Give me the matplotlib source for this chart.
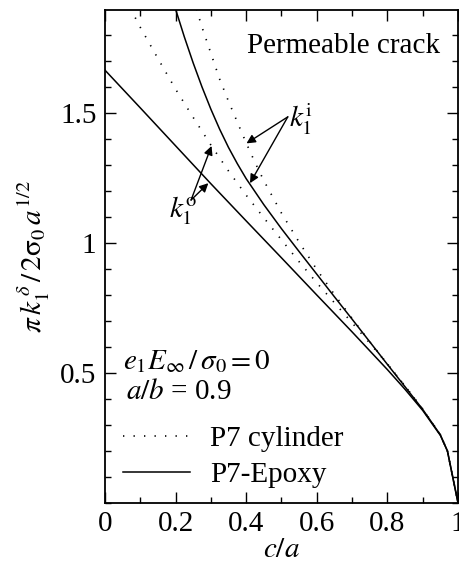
import numpy as np
import matplotlib
matplotlib.use("Agg")
import matplotlib.pyplot as plt
from matplotlib.ticker import MultipleLocator

plt.rcParams["font.family"] = ["Liberation Serif", "DejaVu Serif"]
plt.rcParams["mathtext.fontset"] = "stix"

# P7-Epoxy, outer (k1^o) and inner (k1^i) crack tips
epoxy_o_c = [0.0, 0.1, 0.2, 0.3, 0.4, 0.5, 0.6, 0.7, 0.8, 0.85, 0.9, 0.95, 0.97, 1.0]
epoxy_o_k = [1.665, 1.52, 1.374, 1.228, 1.085, 0.943, 0.80, 0.658, 0.513, 0.437, 0.356, 0.26, 0.20, 0.0]

epoxy_i_c = [0.2, 0.225, 0.25, 0.275, 0.3, 0.325, 0.35, 0.375, 0.4, 0.45, 0.5, 0.55, 0.6,
             0.65, 0.7, 0.75, 0.8, 0.85, 0.9, 0.95, 0.97, 1.0]
epoxy_i_k = [1.90, 1.7925, 1.6925, 1.60, 1.515, 1.4375, 1.3675, 1.305, 1.2475, 1.1475, 1.055,
             0.967, 0.88, 0.793, 0.707, 0.62, 0.533, 0.447, 0.36, 0.262, 0.20, 0.0]

# P7 cylinder
cyl_o_c = [0.05, 0.1, 0.15, 0.2, 0.25, 0.3, 0.35, 0.4, 0.45, 0.5, 0.55, 0.6, 0.65, 0.7,
           0.75, 0.8, 0.85, 0.9, 0.95, 0.97, 1.0]
cyl_o_k = [1.96, 1.83, 1.71, 1.592, 1.483, 1.377, 1.277, 1.184, 1.097, 1.012, 0.928, 0.847,
           0.77, 0.693, 0.615, 0.535, 0.45, 0.36, 0.262, 0.20, 0.0]

cyl_i_c = [0.25, 0.275, 0.3, 0.325, 0.35, 0.375, 0.4, 0.425, 0.45, 0.5, 0.55, 0.6, 0.65,
           0.7, 0.75, 0.8, 0.85, 0.9, 0.95, 0.97, 1.0]
cyl_i_k = [1.94, 1.83, 1.73, 1.63, 1.545, 1.465, 1.385, 1.31, 1.24, 1.115, 1.003, 0.898,
           0.802, 0.71, 0.62, 0.535, 0.45, 0.362, 0.263, 0.20, 0.0]

xticks = [0, 0.2, 0.4, 0.6, 0.8, 1]
xticklabels = ["0", "0.2", "0.4", "0.6", "0.8", "1"]
yticks = [0.5, 1, 1.5]
yticklabels = ["0.5", "1", "1.5"]

fs = 21
fig = plt.figure(figsize=(4.6, 5.74), dpi=100)
ax = fig.add_axes([0.228, 0.1237, 0.7677, 0.8589])

dot = (0, (0.8, 5.5))
l_cyl, = ax.plot(cyl_o_c, cyl_o_k, color="k", lw=1.2, linestyle=dot)
ax.plot(cyl_i_c, cyl_i_k, color="k", lw=1.2, linestyle=dot)
l_epx, = ax.plot(epoxy_o_c, epoxy_o_k, color="k", lw=1.1)
ax.plot(epoxy_i_c, epoxy_i_k, color="k", lw=1.1)

ax.set_xlim(0, 1)
ax.set_ylim(0, 1.896)
ax.set_xticks(xticks)
ax.set_xticklabels(xticklabels)
ax.set_yticks(yticks)
ax.set_yticklabels(yticklabels)
ax.xaxis.set_minor_locator(MultipleLocator(0.1))
ax.yaxis.set_minor_locator(MultipleLocator(0.1))
ax.tick_params(which="both", direction="in", top=True, right=True, labelsize=fs, width=1.0)
ax.tick_params(which="major", length=8, pad=6)
ax.tick_params(which="minor", length=4.5)
for s in ax.spines.values():
    s.set_linewidth(1.3)

ax.set_xlabel("$c/a$", fontsize=fs, labelpad=0)
ax.set_ylabel(r"$\pi\, k_1^{\,\delta}\,/\,2\mathrm{\sigma}_0\, a^{1/2}$", fontsize=fs, labelpad=6)

ax.text(0.95, 1.73, "Permeable crack", fontsize=fs, ha="right", va="baseline")

# k1^i arrows
arr = dict(arrowstyle="-|>", lw=1.0, color="k", mutation_scale=13, shrinkA=0, shrinkB=0)
ax.annotate("", xy=(0.401, 1.383), xytext=(0.518, 1.485), arrowprops=arr)
ax.annotate("", xy=(0.411, 1.230), xytext=(0.518, 1.485), arrowprops=arr)
ax.text(0.522, 1.475, "$k_1^{\\mathrm{i}}$", fontsize=fs, ha="left", va="center")

# k1^o arrows
ax.annotate("", xy=(0.302, 1.373), xytext=(0.244, 1.165), arrowprops=arr)
ax.annotate("", xy=(0.293, 1.23), xytext=(0.244, 1.165), arrowprops=arr)
ax.text(0.26, 1.125, "$k_1^{\\mathrm{o}}$", fontsize=fs, ha="right", va="center")

ax.text(0.05, 0.515, r"$e_1 E_\infty\,/\,\sigma_0 = 0$", fontsize=fs, ha="left", va="baseline")
ax.text(0.06, 0.40, r"$a/b$ = 0.9", fontsize=fs, ha="left", va="baseline")

ax.legend([l_cyl, l_epx], ["P7 cylinder", "P7-Epoxy"], loc="lower left",
          bbox_to_anchor=(0.05, 0.03), frameon=False, fontsize=fs,
          handlelength=2.3, handletextpad=0.7, labelspacing=0.32, borderpad=0,
          borderaxespad=0)

fig.savefig("out.png", dpi=100)
